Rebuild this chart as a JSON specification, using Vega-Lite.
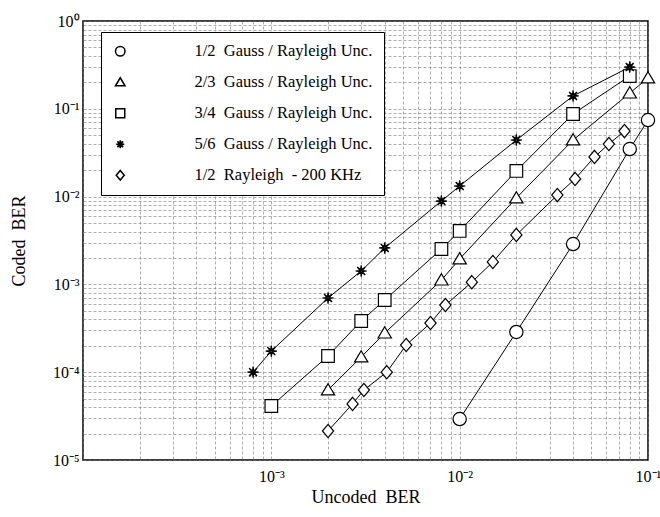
{
  "$schema": "https://vega.github.io/schema/vega-lite/v6.json",
  "width": 565,
  "height": 439,
  "autosize": "none",
  "padding": {"left": 83, "top": 21, "right": 12, "bottom": 57},
  "background": "white",
  "config": {
    "font": "Liberation Serif",
    "view": {"stroke": "black", "strokeWidth": 1.5},
    "axis": {
      "labelFont": "Liberation Serif",
      "labelFontSize": 16,
      "labelColor": "black",
      "titleFont": "Liberation Serif",
      "titleFontSize": 18,
      "titleFontWeight": "normal",
      "titleColor": "black",
      "ticks": false,
      "domain": false,
      "grid": true,
      "gridColor": "#777777",
      "gridDash": [3, 2],
      "gridWidth": 0.7,
      "gridOpacity": 0.85
    }
  },
  "data": {
    "values": [
      {"s": "1/2\u00a0 Gauss / Rayleigh Unc.", "x": 0.01, "y": 2.93e-5},
      {"s": "1/2\u00a0 Gauss / Rayleigh Unc.", "x": 0.02, "y": 2.87e-4},
      {"s": "1/2\u00a0 Gauss / Rayleigh Unc.", "x": 0.04, "y": 2.88e-3},
      {"s": "1/2\u00a0 Gauss / Rayleigh Unc.", "x": 0.08, "y": 3.48e-2},
      {"s": "1/2\u00a0 Gauss / Rayleigh Unc.", "x": 0.1, "y": 7.45e-2},

      {"s": "2/3\u00a0 Gauss / Rayleigh Unc.", "x": 0.002, "y": 6.27e-5},
      {"s": "2/3\u00a0 Gauss / Rayleigh Unc.", "x": 0.003, "y": 1.49e-4},
      {"s": "2/3\u00a0 Gauss / Rayleigh Unc.", "x": 0.004, "y": 2.79e-4},
      {"s": "2/3\u00a0 Gauss / Rayleigh Unc.", "x": 0.008, "y": 1.12e-3},
      {"s": "2/3\u00a0 Gauss / Rayleigh Unc.", "x": 0.01, "y": 1.95e-3},
      {"s": "2/3\u00a0 Gauss / Rayleigh Unc.", "x": 0.02, "y": 9.64e-3},
      {"s": "2/3\u00a0 Gauss / Rayleigh Unc.", "x": 0.04, "y": 4.41e-2},
      {"s": "2/3\u00a0 Gauss / Rayleigh Unc.", "x": 0.08, "y": 0.151},
      {"s": "2/3\u00a0 Gauss / Rayleigh Unc.", "x": 0.1, "y": 0.224},

      {"s": "\u00a03/4\u00a0 Gauss / Rayleigh Unc.", "x": 0.001, "y": 4.12e-5},
      {"s": "\u00a03/4\u00a0 Gauss / Rayleigh Unc.", "x": 0.002, "y": 1.53e-4},
      {"s": "\u00a03/4\u00a0 Gauss / Rayleigh Unc.", "x": 0.003, "y": 3.83e-4},
      {"s": "\u00a03/4\u00a0 Gauss / Rayleigh Unc.", "x": 0.004, "y": 6.64e-4},
      {"s": "\u00a03/4\u00a0 Gauss / Rayleigh Unc.", "x": 0.008, "y": 2.53e-3},
      {"s": "\u00a03/4\u00a0 Gauss / Rayleigh Unc.", "x": 0.01, "y": 4.06e-3},
      {"s": "\u00a03/4\u00a0 Gauss / Rayleigh Unc.", "x": 0.02, "y": 1.96e-2},
      {"s": "\u00a03/4\u00a0 Gauss / Rayleigh Unc.", "x": 0.04, "y": 8.73e-2},
      {"s": "\u00a03/4\u00a0 Gauss / Rayleigh Unc.", "x": 0.08, "y": 0.236},

      {"s": "5/6\u00a0 Gauss / Rayleigh Unc.", "x": 0.0008, "y": 1.0e-4},
      {"s": "5/6\u00a0 Gauss / Rayleigh Unc.", "x": 0.001, "y": 1.74e-4},
      {"s": "5/6\u00a0 Gauss / Rayleigh Unc.", "x": 0.002, "y": 7.0e-4},
      {"s": "5/6\u00a0 Gauss / Rayleigh Unc.", "x": 0.003, "y": 1.42e-3},
      {"s": "5/6\u00a0 Gauss / Rayleigh Unc.", "x": 0.004, "y": 2.6e-3},
      {"s": "5/6\u00a0 Gauss / Rayleigh Unc.", "x": 0.008, "y": 8.9e-3},
      {"s": "5/6\u00a0 Gauss / Rayleigh Unc.", "x": 0.01, "y": 1.32e-2},
      {"s": "5/6\u00a0 Gauss / Rayleigh Unc.", "x": 0.02, "y": 4.41e-2},
      {"s": "5/6\u00a0 Gauss / Rayleigh Unc.", "x": 0.04, "y": 0.14},
      {"s": "5/6\u00a0 Gauss / Rayleigh Unc.", "x": 0.08, "y": 0.299},

      {"s": "1/2\u00a0 Rayleigh\u00a0 - 200 KHz", "x": 0.002, "y": 2.14e-5},
      {"s": "1/2\u00a0 Rayleigh\u00a0 - 200 KHz", "x": 0.0027, "y": 4.35e-5},
      {"s": "1/2\u00a0 Rayleigh\u00a0 - 200 KHz", "x": 0.0031, "y": 6.27e-5},
      {"s": "1/2\u00a0 Rayleigh\u00a0 - 200 KHz", "x": 0.0041, "y": 1.0e-4},
      {"s": "1/2\u00a0 Rayleigh\u00a0 - 200 KHz", "x": 0.0052, "y": 2.04e-4},
      {"s": "1/2\u00a0 Rayleigh\u00a0 - 200 KHz", "x": 0.007, "y": 3.63e-4},
      {"s": "1/2\u00a0 Rayleigh\u00a0 - 200 KHz", "x": 0.0084, "y": 5.82e-4},
      {"s": "1/2\u00a0 Rayleigh\u00a0 - 200 KHz", "x": 0.0116, "y": 1.06e-3},
      {"s": "1/2\u00a0 Rayleigh\u00a0 - 200 KHz", "x": 0.015, "y": 1.8e-3},
      {"s": "1/2\u00a0 Rayleigh\u00a0 - 200 KHz", "x": 0.02, "y": 3.66e-3},
      {"s": "1/2\u00a0 Rayleigh\u00a0 - 200 KHz", "x": 0.033, "y": 1.04e-2},
      {"s": "1/2\u00a0 Rayleigh\u00a0 - 200 KHz", "x": 0.041, "y": 1.59e-2},
      {"s": "1/2\u00a0 Rayleigh\u00a0 - 200 KHz", "x": 0.052, "y": 2.83e-2},
      {"s": "1/2\u00a0 Rayleigh\u00a0 - 200 KHz", "x": 0.062, "y": 3.97e-2},
      {"s": "1/2\u00a0 Rayleigh\u00a0 - 200 KHz", "x": 0.075, "y": 5.58e-2}
    ]
  },
  "encoding": {
    "x": {
      "field": "x",
      "type": "quantitative",
      "scale": {"type": "log", "domain": [0.0001, 0.1], "nice": false},
      "axis": {
        "title": "Uncoded\u00a0 BER",
        "values": [0.0001, 0.0002, 0.0003, 0.0004, 0.0005, 0.0006, 0.0007, 0.0008, 0.0009, 0.001, 0.002, 0.003, 0.004, 0.005, 0.006, 0.007, 0.008, 0.009, 0.01, 0.02, 0.03, 0.04, 0.05, 0.06, 0.07, 0.08, 0.09, 0.1],
        "labelExpr": "(datum.value < 0.0005 || abs(log(datum.value)/LN10 - round(log(datum.value)/LN10)) > 0.01) ? '' : '10' + (round(log(datum.value)/LN10) < 0 ? '⁻' : '') + ['⁰','¹','²','³','⁴','⁵'][abs(round(log(datum.value)/LN10))]",
        "labelFlush": false,
        "labelOverlap": false,
        "labelPadding": 8,
        "titlePadding": 4
      }
    },
    "y": {
      "field": "y",
      "type": "quantitative",
      "scale": {"type": "log", "domain": [0.00001, 1], "nice": false},
      "axis": {
        "title": "Coded\u00a0 BER",
        "values": [0.00001, 0.00002, 0.00003, 0.00004, 0.00005, 0.00006, 0.00007, 0.00008, 0.00009, 0.0001, 0.0002, 0.0003, 0.0004, 0.0005, 0.0006, 0.0007, 0.0008, 0.0009, 0.001, 0.002, 0.003, 0.004, 0.005, 0.006, 0.007, 0.008, 0.009, 0.01, 0.02, 0.03, 0.04, 0.05, 0.06, 0.07, 0.08, 0.09, 0.1, 0.2, 0.3, 0.4, 0.5, 0.6, 0.7, 0.8, 0.9, 1],
        "labelExpr": "abs(log(datum.value)/LN10 - round(log(datum.value)/LN10)) > 0.01 ? '' : '10' + (round(log(datum.value)/LN10) < 0 ? '⁻' : '') + ['⁰','¹','²','³','⁴','⁵'][abs(round(log(datum.value)/LN10))]",
        "labelFlush": false,
        "labelOverlap": false,
        "labelPadding": 4,
        "titlePadding": 24
      }
    }
  },
  "layer": [
    {
      "mark": {"type": "line", "color": "black", "strokeWidth": 1},
      "encoding": {
        "detail": {"field": "s", "type": "nominal"},
        "order": {"field": "x", "type": "quantitative"}
      }
    },
    {
      "mark": {"type": "point", "filled": false, "color": "black", "fill": "white", "strokeWidth": 1.2, "opacity": 1, "size": 196},
      "encoding": {
        "shape": {
          "field": "s",
          "type": "nominal",
          "scale": {
            "domain": ["1/2\u00a0 Gauss / Rayleigh Unc.", "2/3\u00a0 Gauss / Rayleigh Unc.", "\u00a03/4\u00a0 Gauss / Rayleigh Unc.", "5/6\u00a0 Gauss / Rayleigh Unc.", "1/2\u00a0 Rayleigh\u00a0 - 200 KHz"],
            "range": [
              "M-0.95,0A0.95,0.95,0,1,0,0.95,0A0.95,0.95,0,1,0,-0.95,0Z",
              "M0,-0.9L0.95,0.7L-0.95,0.7Z",
              "M-0.9,-0.9L0.9,-0.9L0.9,0.9L-0.9,0.9Z",
              "M0.8,0L0.18,0.075L0.566,0.566L0.075,0.18L0,0.8L-0.075,0.18L-0.566,0.566L-0.18,0.075L-0.8,0L-0.18,-0.075L-0.566,-0.566L-0.075,-0.18L0,-0.8L0.075,-0.18L0.566,-0.566L0.18,-0.075Z",
              "M0,-0.95L0.8,0L0,0.95L-0.8,0Z"
            ]
          },
          "legend": {
            "orient": "none",
            "legendX": 18,
            "legendY": 11,
            "title": null,
            "padding": 11,
            "strokeColor": "black",
            "fillColor": "white",
            "labelOffset": 66,
            "labelFont": "Liberation Serif",
            "labelFontSize": 16.5,
            "labelColor": "black",
            "labelLimit": 0,
            "rowPadding": 14,
            "encode": {
              "symbols": {
                "update": {
                  "x": {"value": 23},
                  "size": {"value": 196},
                  "fill": {"signal": "datum.index == 3 ? 'black' : 'white'"},
                  "shape": {"signal": "['M-3.2,0L-0.95,0M0.95,0L3.2,0M-0.95,0A0.95,0.95,0,1,0,0.95,0A0.95,0.95,0,1,0,-0.95,0Z', 'M-3.2,0.3L-0.76,0.3M0.76,0.3L3.2,0.3M0,-0.9L0.95,0.7L-0.95,0.7Z', 'M-3.2,0L-0.9,0M0.9,0L3.2,0M-0.9,-0.9L0.9,-0.9L0.9,0.9L-0.9,0.9Z', 'M-3.2,0L3.2,0M0.6,0L0.14,0.06L0.424,0.424L0.06,0.14L0,0.6L-0.06,0.14L-0.424,0.424L-0.14,0.06L-0.6,0L-0.14,-0.06L-0.424,-0.424L-0.06,-0.14L0,-0.6L0.06,-0.14L0.424,-0.424L0.14,-0.06Z', 'M-3.2,0L-0.8,0M0.8,0L3.2,0M0,-0.95L0.8,0L0,0.95L-0.8,0Z'][datum.index]"}
                }
              }
            }
          }
        }
      }
    }
  ]
}
